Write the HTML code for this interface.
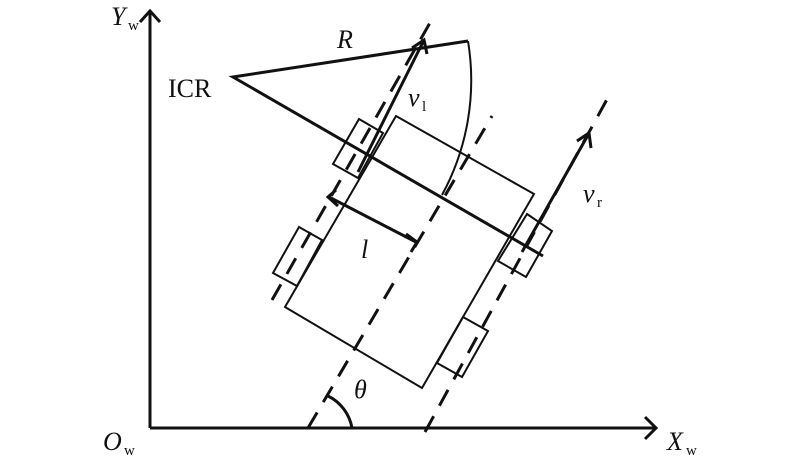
<!DOCTYPE html>
<html><head><style>body{margin:0;background:#fff}svg{display:block}</style></head>
<body>
<svg width="800" height="462" viewBox="0 0 800 462" xmlns="http://www.w3.org/2000/svg" font-family="Liberation Serif, serif" fill="none" stroke="#111">
<!-- axes -->
<line x1="150" y1="428" x2="150" y2="12" stroke-width="3"/>
<polyline points="140,22 150,11 160,22" stroke-width="3"/>
<line x1="150" y1="428" x2="656" y2="428" stroke-width="3"/>
<polyline points="645,417 656,428 645,439" stroke-width="3"/>
<!-- dashed axes -->
<g stroke-width="3" stroke-dasharray="18,12">
<line x1="308" y1="428" x2="492" y2="116"/>
<line x1="272" y1="300" x2="435" y2="14"/>
<line x1="425" y1="432" x2="611" y2="92"/>
</g>
<!-- body -->
<polygon points="396,116 534,194 422,388 285,307" stroke-width="2" fill="none"/>
<!-- wheels -->
<g stroke-width="2" fill="none">
<polygon points="359,119 383,133 358,178 333,164"/>
<polygon points="299,227 322,240 297,286 273,273"/>
<polygon points="527,214 552,231 526,277 498,261"/>
<polygon points="463,317 488,331 462,377 437,363"/>
</g>
<!-- ICR lines -->
<polyline points="468,41 233,77 543,256" stroke-width="3"/>
<path d="M468,41 A240,240 0 0 1 442,195" stroke-width="2"/>
<!-- velocity arrows -->
<line x1="358" y1="172" x2="423" y2="42" stroke-width="3"/>
<polyline points="412,48 424,40 427,54" stroke-width="3"/>
<line x1="522" y1="252" x2="588" y2="135" stroke-width="3"/>
<polyline points="577,141 589,133 591,148" stroke-width="3"/>
<!-- l arrow -->
<line x1="329" y1="197" x2="416" y2="242" stroke-width="3"/>
<polyline points="336,190 328,197 338,206" stroke-width="3"/>
<polyline points="406,234 417,242 411,252" stroke-width="3"/>
<!-- theta -->
<path d="M352,428 A44,44 0 0 0 328,396" stroke-width="3"/>
<g fill="#111" stroke="none" font-size="26">
<text x="111" y="25" font-style="italic">Y</text><text x="128" y="30" font-size="15">w</text>
<text x="168" y="97">ICR</text>
<text x="337" y="48" font-style="italic">R</text>
<text x="408" y="106" font-style="italic">v</text><text x="422" y="111" font-size="15">l</text>
<text x="583" y="202" font-style="italic">v</text><text x="597" y="207" font-size="15">r</text>
<text x="361" y="258" font-style="italic">l</text>
<text x="354" y="398" font-style="italic">θ</text>
<text x="103" y="450" font-style="italic">O</text><text x="124" y="455" font-size="15">w</text>
<text x="667" y="450" font-style="italic">X</text><text x="686" y="455" font-size="15">w</text>
</g>
</svg>
</body></html>
